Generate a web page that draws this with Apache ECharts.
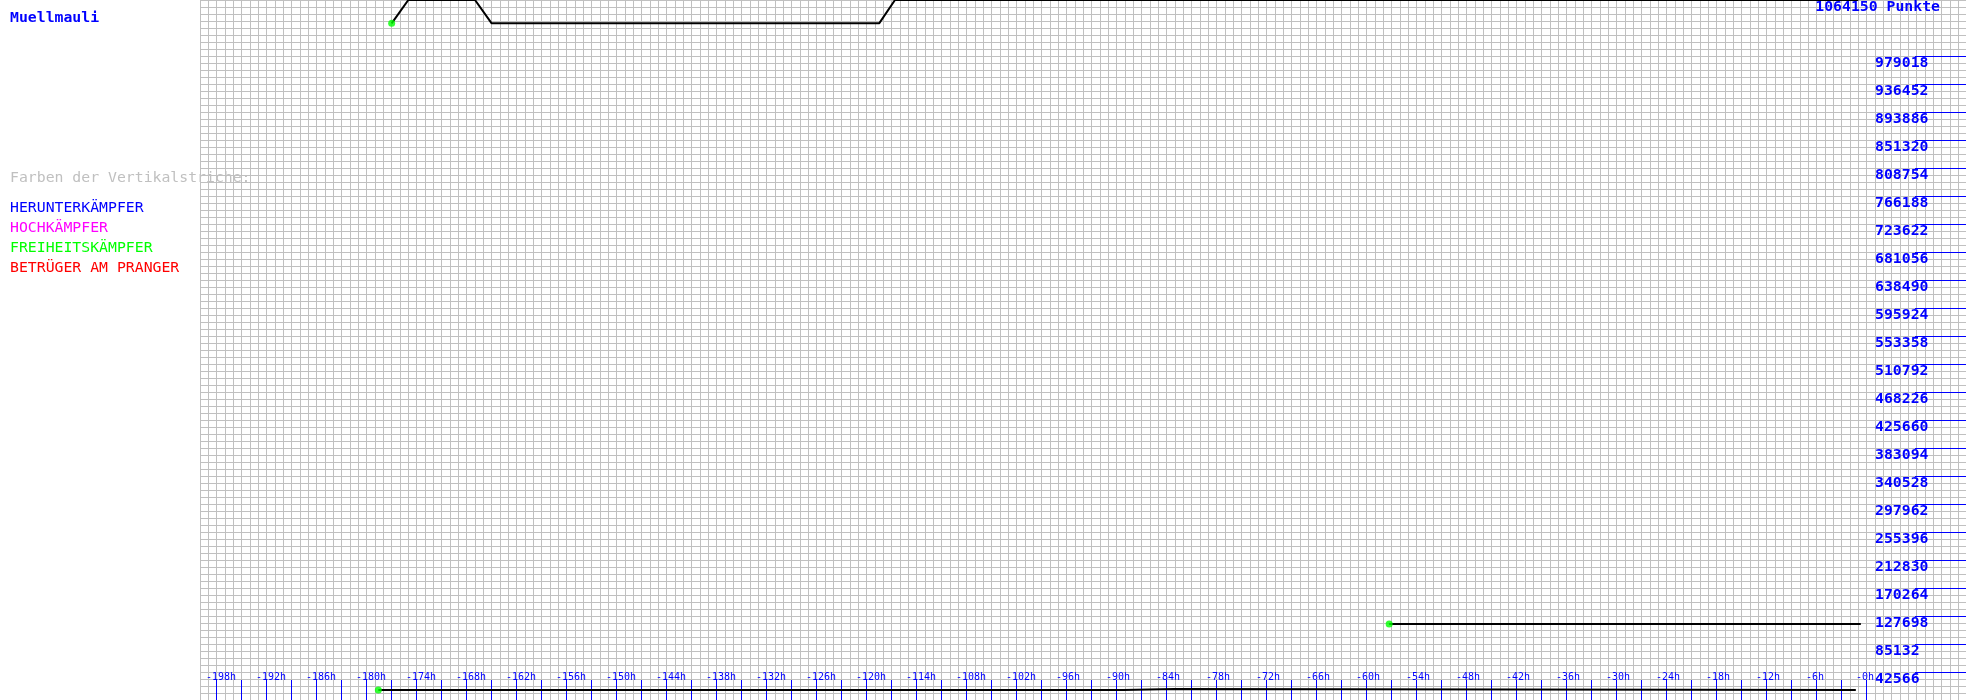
<!DOCTYPE html>
<html>
<head>
<meta charset="utf-8">
<script src="https://cdn.jsdelivr.net/npm/echarts@6/dist/echarts.min.js"></script>
<style>html,body{margin:0;padding:0;background:#fff}#c{width:1966px;height:700px}</style>
</head>
<body>
<div id="c"></div>
<script>
// ---- data ----
const playerName = 'Muellmauli';
const yMax = 1064150;
const xMin = -200;
const xMax = 11.92;
// main score line (hours before now, points)
const mainHours  = [-177, -175, -167, -165, -118.5, -116.6, -1];
const mainPoints = [1028700, 1064150, 1064150, 1028700, 1028700, 1064150, 1064150];
// middle line
const midHours  = [-57.3, -0.7];
const midPoints = [115540, 115540];
// low line
const lowHours  = [-178.6, -89.2, -89.2, -83.1, -83.1, -1.3];
const lowPoints = [15200, 15200, 16720, 16720, 15200, 15200];
// axis labels
const xLabelHours = [-198,-192,-186,-180,-174,-168,-162,-156,-150,-144,-138,-132,-126,-120,-114,-108,-102,-96,-90,-84,-78,-72,-66,-60,-54,-48,-42,-36,-30,-24,-18,-12,-6,0];
const yLabelValues = [42566,85132,127698,170264,212830,255396,297962,340528,383094,425660,468226,510792,553358,595924,638490,681056,723622,766188,808754,851320,893886,936452,979018];
const legendTitle = 'Farben der Vertikalstriche:';
const legendItems = ['HERUNTERKÄMPFER','HOCHKÄMPFER','FREIHEITSKÄMPFER','BETRÜGER AM PRANGER'];
const legendColors = ['#0000ff','#ff00ff','#00ff00','#ff0000'];

// ---- build ----
const FONT = '"DejaVu Sans Mono", monospace';
const FS = 14.8;
const xTickHours = [];
for (let h = -198; h <= 0; h += 3) xTickHours.push(h);
const labelShift = 1.284; // hours: labels start left of their tick
const zip = (a, b) => a.map((v, i) => [v, b[i]]);

const chart = echarts.init(document.getElementById('c'), null, {renderer: 'canvas'});
const graphics = [
  {type:'text', x:10, y:18, z:100, style:{text:playerName, fill:'#0000ff', font:'bold ' + FS + 'px ' + FONT, verticalAlign:'middle'}},
  {type:'text', x:1940, y:7, z:100, style:{text: yMax + ' Punkte', fill:'#0000ff', font:'bold ' + FS + 'px ' + FONT, verticalAlign:'middle', align:'right'}},
  {type:'text', x:10, y:178, z:100, style:{text:legendTitle, fill:'#c0c0c0', font:FS + 'px ' + FONT, verticalAlign:'middle'}}
];
const legendY = [208, 228, 248, 268];
legendItems.forEach((t, i) => graphics.push({type:'text', x:10, y:legendY[i], z:100, style:{text:t, fill:legendColors[i], font:FS + 'px ' + FONT, verticalAlign:'middle'}}));

const noLine = {show:false, onZero:false};
chart.setOption({
  animation: false,
  backgroundColor: '#ffffff',
  grid: {left:200, right:0, top:0, bottom:0, containLabel:false},
  graphic: graphics,
  xAxis: [
    {type:'value', position:'bottom', min:xMin, max:xMax, interval:1, axisLine:noLine, axisTick:{show:false}, axisLabel:{show:false},
     splitLine:{show:true, lineStyle:{color:'#c0c0c0', width:1}}},
    {type:'value', position:'bottom', min:xMin, max:xMax, axisLine:noLine, axisLabel:{show:false}, splitLine:{show:false},
     axisTick:{show:true, inside:true, length:20, customValues:xTickHours, lineStyle:{color:'#0000ff', width:1}}},
    {type:'value', position:'bottom', min:xMin + labelShift, max:xMax + labelShift, axisLine:noLine, axisTick:{show:false}, splitLine:{show:false},
     axisLabel:{show:true, inside:true, margin:18, align:'left', customValues:xLabelHours, color:'#0000ff', fontFamily:FONT, fontSize:10,
       formatter: v => '-' + Math.abs(v) + 'h'}}
  ],
  yAxis: [
    {type:'value', position:'right', min:0, max:yMax, interval:yMax/100, axisLine:noLine, axisTick:{show:false}, axisLabel:{show:false},
     splitLine:{show:true, lineStyle:{color:'#c0c0c0', width:1}}},
    {type:'value', position:'right', min:0, max:yMax, axisLine:noLine, splitLine:{show:false},
     axisTick:{show:true, inside:true, length:51, customValues:yLabelValues, lineStyle:{color:'#0000ff', width:1}},
     axisLabel:{show:true, inside:true, margin:91, align:'left', verticalAlign:'top', customValues:yLabelValues,
       color:'#0000ff', fontFamily:FONT, fontWeight:'bold', fontSize:FS, formatter: v => String(v)}}
  ],
  series: [
    {type:'line', xAxisIndex:0, yAxisIndex:0, data:zip(mainHours, mainPoints), showSymbol:false, lineStyle:{color:'#000', width:2}, z:5},
    {type:'line', xAxisIndex:0, yAxisIndex:0, data:zip(midHours, midPoints), showSymbol:false, lineStyle:{color:'#000', width:2}, z:5},
    {type:'line', xAxisIndex:0, yAxisIndex:0, data:zip(lowHours, lowPoints), showSymbol:false, lineStyle:{color:'#000', width:2}, z:5},
    {type:'scatter', xAxisIndex:0, yAxisIndex:0, symbolSize:7, itemStyle:{color:'#00ff00'}, z:6,
     data:[[mainHours[0], mainPoints[0]], [midHours[0], midPoints[0]], [lowHours[0], lowPoints[0]]]}
  ]
});
</script>
</body>
</html>
